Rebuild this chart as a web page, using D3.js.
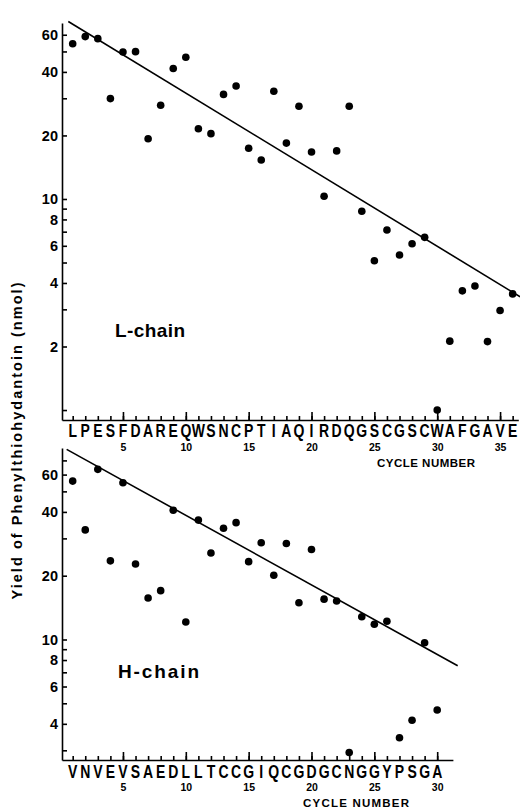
<!DOCTYPE html>
<html>
<head>
<meta charset="utf-8">
<script src="https://cdn.jsdelivr.net/npm/d3@7"></script>
<style>
  html, body { margin: 0; padding: 0; background: #fff; }
  svg { display: block; font-family: "Liberation Sans", Arial, sans-serif; }
</style>
</head>
<body>
<svg id="chart" width="520" height="809"></svg>
<script>
// ---------- data ----------
const lSequence = "LPESFDAREQWSNCPTIAQIRDQGSCGSCWAFGAVE".split("");
const lYield = [54.4, 58.8, 57.5, 29.9, 49.7, 49.9, 19.3, 27.8, 41.5, 46.9,
                21.5, 20.4, 31.3, 34.3, 17.4, 15.3, 32.4, 18.4, 27.5, 16.7,
                10.3, 16.9, 27.5, 8.74, 5.10, 7.13, 5.43, 6.14, 6.58, 1.0,
                2.12, 3.67, 3.87, 2.11, 2.96, 3.55];
const lFit = [[0.65, 69.3], [36.6, 3.44]];

const hSequence = "VNVEVSAEDLLTCCGIQCGDGCNGGYPSGA".split("");
const hYield = [55.9, 32.9, 63.5, 23.5, 54.9, 22.7, 15.7, 17.0, 40.7, 12.1,
                36.6, 25.6, 33.5, 35.6, 23.3, 28.6, 20.1, 28.4, 14.9, 26.6,
                15.5, 15.2, 2.93, 12.8, 11.8, 12.2, 3.44, 4.16, 9.66, 4.65];
const hFit = [[0.52, 78.9], [31.63, 7.52]];

const lYTicks = [1, 2, 3, 4, 5, 6, 7, 8, 9, 10, 20, 30, 40, 50, 60];
const hYTicks = [3, 4, 5, 6, 7, 8, 9, 10, 20, 30, 40, 50, 60, 70];
const yTickLabels = [2, 4, 6, 8, 10, 20, 40, 60];
const lCycleLabels = [5, 10, 15, 20, 25, 30, 35];
const hCycleLabels = [5, 10, 15, 20, 25, 30];

const yTitle = "Yield of Phenylthiohydantoin (nmol)";
const xTitle = "CYCLE NUMBER";

// ---------- drawing ----------
const svg = d3.select("#chart");
const FONT = "'Liberation Sans', Arial, sans-serif";

function panel(cfg) {
  const g = svg.append("g");
  const x = d3.scaleLinear().domain(cfg.xDomain).range(cfg.xRange);
  const y = d3.scaleLog().domain(cfg.yDomain).range(cfg.yRange);
  const x0 = cfg.xRange[0], yb = cfg.yRange[0];

  // y axis (ticks pointing inward)
  const ya = g.append("g").attr("transform", `translate(${x0},0)`)
    .call(d3.axisLeft(y).tickValues(cfg.yTicks).tickSizeInner(-5).tickSizeOuter(0).tickPadding(4)
      .tickFormat(d => yTickLabels.includes(d) ? d : ""));
  ya.selectAll("text").attr("font-size", 14.5).attr("font-weight", "bold").attr("font-family", FONT).attr("fill", "#000");
  ya.selectAll("line, path").attr("stroke", "#000").attr("stroke-width", 1.6);

  // x axis minor ticks
  const seq = cfg.seq;
  const xm = g.append("g").attr("transform", `translate(0,${yb})`)
    .call(d3.axisBottom(x).tickValues(d3.range(1, seq.length + 1)).tickSizeInner(-4).tickSizeOuter(0).tickFormat(""));
  xm.selectAll("line, path").attr("stroke", "#000").attr("stroke-width", 1.6);
  // major ticks with numbers
  const xM = g.append("g").attr("transform", `translate(0,${yb})`)
    .call(d3.axisBottom(x).tickValues(cfg.cycleLabels).tickSizeInner(-8).tickSizeOuter(0).tickPadding(24));
  xM.select(".domain").remove();
  xM.selectAll("line").attr("stroke", "#000").attr("stroke-width", 1.6);
  xM.selectAll("text").attr("font-size", 10.5).attr("font-weight", "bold").attr("font-family", FONT).attr("fill", "#000");

  // sequence letters (condensed)
  g.selectAll("text.seq").data(seq).enter().append("text")
    .attr("class", "seq")
    .attr("transform", (d, i) => `translate(${x(i + 1)},${yb + cfg.letterDy}) scale(0.8,1)`)
    .attr("text-anchor", "middle")
    .attr("font-size", 17.5).attr("font-weight", "bold").attr("font-family", FONT)
    .text(d => d);

  // x title
  g.append("text").attr("x", cfg.xTitleX).attr("y", yb + cfg.xTitleDy)
    .attr("text-anchor", "middle").attr("font-size", 11.5).attr("font-weight", "bold")
    .attr("font-family", FONT)
    .attr("textLength", cfg.xTitleLen).attr("lengthAdjust", "spacing")
    .text(xTitle);

  // fit line
  g.append("path").datum(cfg.fit)
    .attr("d", d3.line().x(d => x(d[0])).y(d => y(d[1])))
    .attr("fill", "none").attr("stroke", "#000").attr("stroke-width", 1.6);

  // points
  g.selectAll("circle").data(cfg.values).enter().append("circle")
    .attr("cx", (d, i) => x(i + 1)).attr("cy", d => y(d)).attr("r", 3.8).attr("fill", "#000");

  // chain label
  g.append("text").attr("x", cfg.labelX).attr("y", cfg.labelY)
    .attr("font-size", 19).attr("font-family", FONT).attr("font-weight", "bold")
    .attr("textLength", cfg.labelLen).attr("lengthAdjust", "spacing")
    .text(cfg.label);
}

panel({
  seq: lSequence, values: lYield, fit: lFit, yTicks: lYTicks, cycleLabels: lCycleLabels,
  xDomain: [0.15, 36.45], xRange: [62, 518.3],
  yDomain: [0.897, 68.2], yRange: [420, 23],
  letterDy: 17, xTitleX: 426, xTitleDy: 47, xTitleLen: 98,
  label: "L-chain", labelX: 115, labelY: 337, labelLen: 70
});

panel({
  seq: hSequence, values: hYield, fit: hFit, yTicks: hYTicks, cycleLabels: hCycleLabels,
  xDomain: [0.15, 31.25], xRange: [62, 452.9],
  yDomain: [2.70, 80.1], yRange: [760, 448],
  letterDy: 18, xTitleX: 356, xTitleDy: 47, xTitleLen: 106,
  label: "H-chain", labelX: 118, labelY: 678, labelLen: 81
});

// y-axis title
svg.append("text")
  .attr("transform", "translate(22,441) rotate(-90)")
  .attr("text-anchor", "middle")
  .attr("font-size", 14.5).attr("font-weight", "bold").attr("font-family", FONT)
  .attr("textLength", 317).attr("lengthAdjust", "spacing")
  .text(yTitle);
</script>
</body>
</html>
